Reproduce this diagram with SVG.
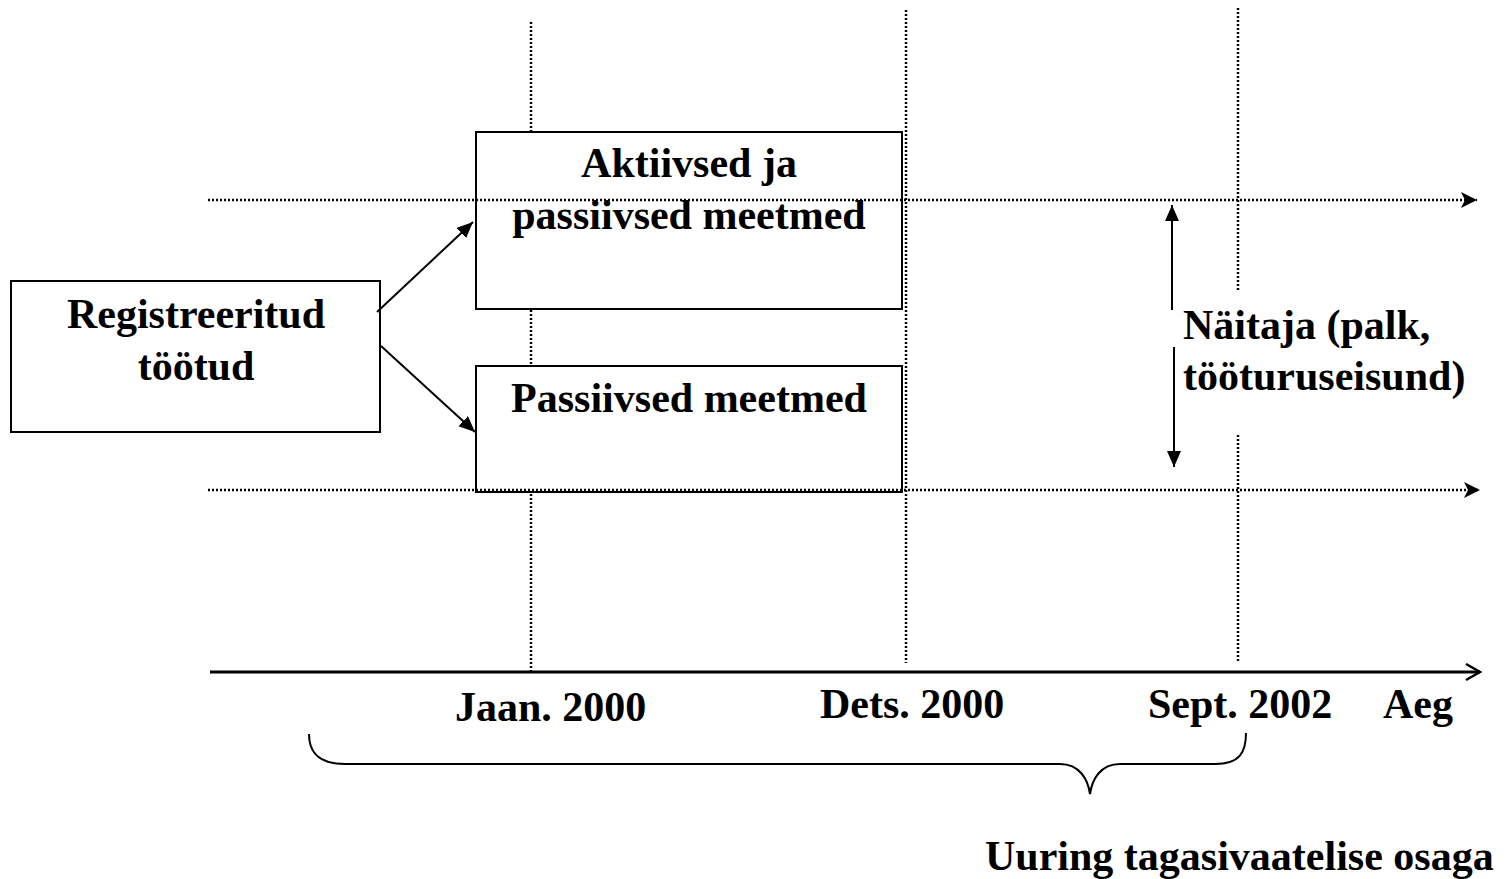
<svg xmlns="http://www.w3.org/2000/svg" width="1507" height="879" viewBox="0 0 1507 879">
<style>
.t{font-family:"Liberation Serif","Times New Roman",serif;font-weight:bold;font-size:42px;fill:#000}
.box{fill:#fff;stroke:#000;stroke-width:2}
.dot{stroke:#000;stroke-width:2.5;stroke-dasharray:2 2;fill:none}
.ln{stroke:#000;stroke-width:2;fill:none}
</style>
<defs>
<marker id="stealth" markerUnits="userSpaceOnUse" markerWidth="22" markerHeight="22" refX="16" refY="8" orient="auto">
<path d="M0,0 L16,8 L0,16 L4,8 Z" fill="#000"/>
</marker>
<marker id="tri" markerUnits="userSpaceOnUse" markerWidth="22" markerHeight="22" refX="16" refY="7" orient="auto">
<path d="M0,0 L16,7 L0,14 Z" fill="#000"/>
</marker>
<marker id="vee" markerUnits="userSpaceOnUse" markerWidth="20" markerHeight="20" refX="15" refY="9" orient="auto">
<path d="M1,1 L15,9 L1,17" fill="none" stroke="#000" stroke-width="2.5"/>
</marker>
</defs>
<rect width="1507" height="879" fill="#fff"/>
<g id="gridlines">
<line class="dot" x1="531" y1="22" x2="531" y2="672"/>
<line class="dot" x1="906" y1="10" x2="906" y2="663"/>
<line class="dot" x1="1238" y1="8" x2="1238" y2="292"/>
<line class="dot" x1="1238" y1="435" x2="1238" y2="662"/>
</g>
<g id="node-registreeritud">
<rect class="box" x="11" y="281" width="369" height="151"/>
<text class="t" text-anchor="middle" x="196" y="328">Registreeritud</text>
<text class="t" text-anchor="middle" x="196" y="380">töötud</text>
</g>
<g id="node-aktiivsed">
<rect class="box" x="476" y="132" width="426" height="177"/>
<text class="t" text-anchor="middle" x="689" y="177">Aktiivsed ja</text>
<text class="t" text-anchor="middle" x="689" y="229">passiivsed meetmed</text>
</g>
<g id="node-passiivsed">
<rect class="box" x="476" y="366" width="426" height="126"/>
<text class="t" text-anchor="middle" x="689" y="412">Passiivsed meetmed</text>
</g>
<g id="connectors">
<line class="dot" x1="208" y1="200" x2="1477" y2="200" marker-end="url(#stealth)"/>
<line class="dot" x1="208" y1="490" x2="1480" y2="490" marker-end="url(#stealth)"/>
<line class="ln" x1="377" y1="312" x2="473" y2="222" marker-end="url(#tri)"/>
<line class="ln" x1="381" y1="346" x2="475" y2="432" marker-end="url(#tri)"/>
<line class="ln" x1="1172" y1="310" x2="1172" y2="205" marker-end="url(#tri)"/>
<line class="ln" x1="1174" y1="347" x2="1174" y2="467" marker-end="url(#tri)"/>
<line x1="210" y1="672" x2="1480" y2="672" stroke="#000" stroke-width="3" marker-end="url(#vee)"/>
<path class="ln" d="M309,734 C309,752 318,764 345,764 L1060,764 C1080,764 1088,780 1090,794 C1092,780 1100,764 1120,764 L1215,764 C1240,764 1246,752 1246,733"/>
</g>
<g id="labels">
<text class="t" x="1183" y="339">Näitaja (palk,</text>
<text class="t" x="1183" y="390">tööturuseisund)</text>
<text class="t" x="455" y="721">Jaan. 2000</text>
<text class="t" x="820" y="718">Dets. 2000</text>
<text class="t" x="1148" y="718">Sept. 2002</text>
<text class="t" x="1383" y="718">Aeg</text>
<text class="t" x="985" y="870">Uuring tagasivaatelise osaga</text>
</g>
</svg>
